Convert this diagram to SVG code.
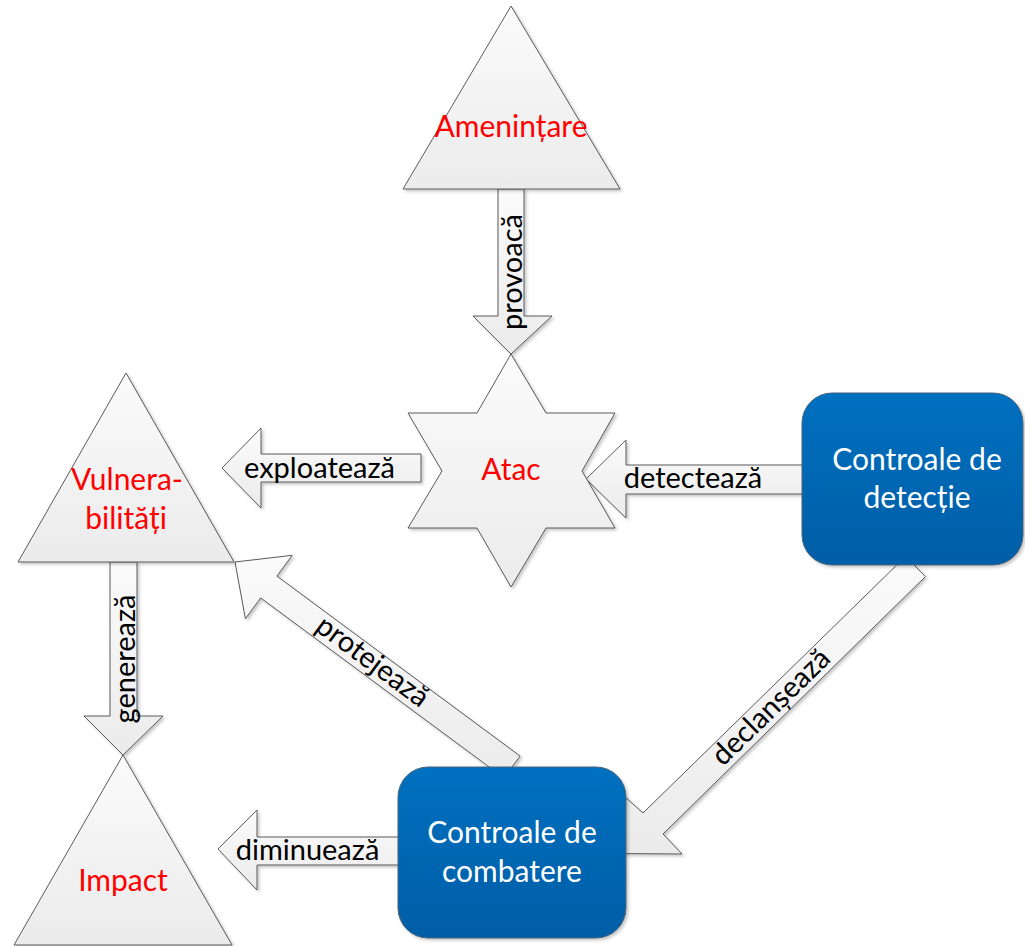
<svg xmlns="http://www.w3.org/2000/svg" width="1025" height="946" viewBox="0 0 1025 946">
<defs>
  <linearGradient id="gray" x1="0" y1="0" x2="0" y2="1">
    <stop offset="0" stop-color="#fbfbfb"/>
    <stop offset="1" stop-color="#ebebeb"/>
  </linearGradient>
  <linearGradient id="blue" x1="0" y1="0" x2="0" y2="1">
    <stop offset="0" stop-color="#0070c0"/>
    <stop offset="1" stop-color="#005ea6"/>
  </linearGradient>
  <filter id="sh" x="-10%" y="-10%" width="130%" height="130%">
    <feDropShadow dx="2" dy="2" stdDeviation="1.5" flood-color="#000" flood-opacity="0.22"/>
  </filter>
</defs>
<style>
  .shape { fill: url(#gray); stroke: #5a5a5a; stroke-width: 1; filter: url(#sh); }
  .box { fill: url(#blue); stroke: #4f6478; stroke-width: 1; filter: url(#sh); }
  .lbl { font-family: Lato, "Open Sans", "Liberation Sans", sans-serif; font-size: 29px; text-anchor: middle; }
  .node { font-size: 30px; }
  .red { fill: #ff0000; }
  .blk { fill: #000000; }
  .wht { fill: #ffffff; }
</style>
<rect width="1025" height="946" fill="#ffffff"/>

<g id="connectors">
  <g id="arrow-provoaca">
    <polygon class="shape" points="498,189 524,189 524,316 552,316 511,354 473,316 498,316"/>
    <text class="lbl blk" transform="translate(522,272) rotate(-90)">provoacă</text>
  </g>
  <g id="arrow-exploateaza">
    <polygon class="shape" points="222,468 261,428 261,454 421,454 421,482 261,482 261,508"/>
    <text class="lbl blk" x="319.5" y="478">exploatează</text>
  </g>
  <g id="arrow-detecteaza">
    <polygon class="shape" points="586,479 626,440 626,465 804,465 804,494 626,494 626,518"/>
    <text class="lbl blk" x="693" y="488">detectează</text>
  </g>
  <g id="arrow-genereaza">
    <polygon class="shape" points="110,562 137,562 137,716 163,716 123,755 84,716 110,716"/>
    <text class="lbl blk" transform="translate(135,659) rotate(-90)">generează</text>
  </g>
  <g id="arrow-diminueaza">
    <polygon class="shape" points="218,849 257,810 257,837 400,837 400,865 257,865 257,890"/>
    <text class="lbl blk" x="307.5" y="860">diminuează</text>
  </g>
  <g id="arrow-protejeaza">
    <polygon class="shape" points="235,562 292.2,555.3 276.9,576.1 520.1,756.1 503.9,777.9 260.7,597.9 245.4,618.7"/>
    <text class="lbl blk" transform="translate(367,669) rotate(36.5)">protejează</text>
  </g>
  <g id="arrow-declanseaza">
    <polygon class="shape" points="905.6,556.4 925.4,576.6 663,834 682,854 622.3,853.6 622.5,794.7 643,813"/>
    <text class="lbl blk" transform="translate(777.6,713.7) rotate(-44.4)">declanșează</text>
  </g>
</g>

<g id="node-amenintare">
  <polygon class="shape" points="511,6 620,189 403,189"/>
  <text class="lbl node red" x="511" y="137">Amenințare</text>
</g>

<g id="node-atac">
  <polygon class="shape" points="511,354 546,413 615,413 582,471 615,528 546,528 511,587 477,528 408,528 442,471 408,413 477,413"/>
  <text class="lbl node red" x="511" y="480">Atac</text>
</g>

<g id="node-vulnerabilitati">
  <polygon class="shape" points="126,373 234,562 18,562"/>
  <text class="lbl node red" x="127" y="490">Vulnera-</text>
  <text class="lbl node red" x="126" y="529">bilități</text>
</g>

<g id="node-impact">
  <polygon class="shape" points="123,755 232,945 14,945"/>
  <text class="lbl node red" x="123" y="891">Impact</text>
</g>

<g id="node-controale-detectie">
  <rect class="box" x="802" y="393" width="221" height="172" rx="30" ry="30"/>
  <text class="lbl node wht" x="917" y="470">Controale de</text>
  <text class="lbl node wht" x="917" y="508">detecție</text>
</g>

<g id="node-controale-combatere">
  <rect class="box" x="398" y="767" width="228" height="171" rx="30" ry="30"/>
  <text class="lbl node wht" x="512" y="843">Controale de</text>
  <text class="lbl node wht" x="512" y="882">combatere</text>
</g>
</svg>
